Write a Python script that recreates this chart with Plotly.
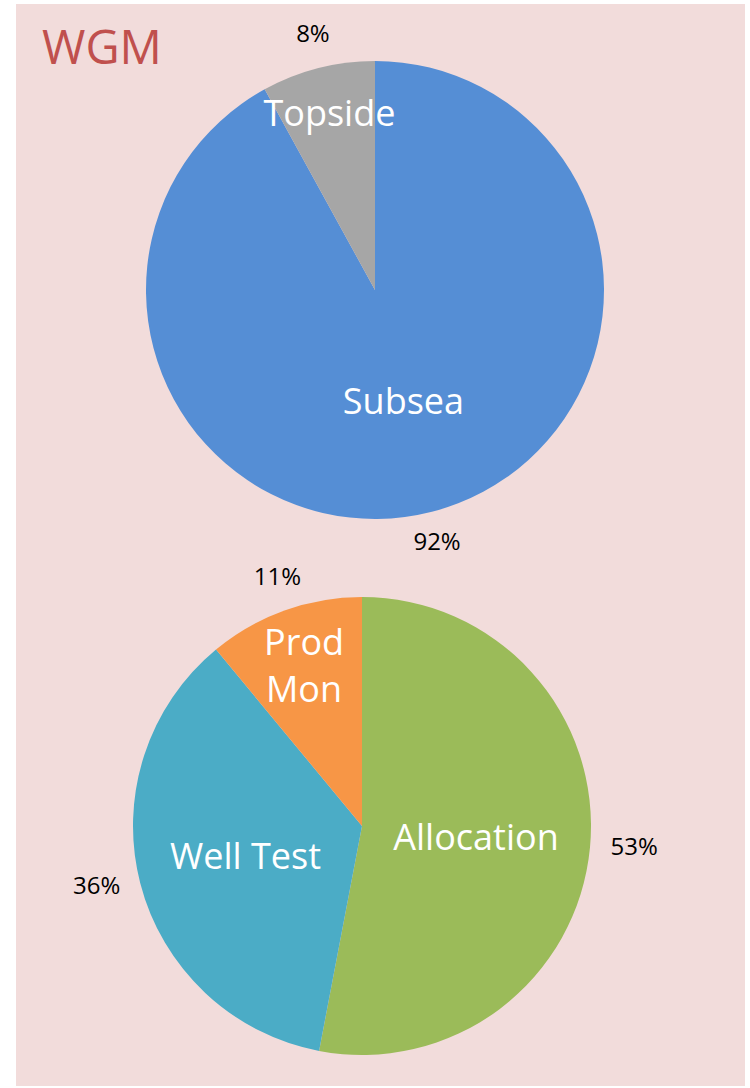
import math
import plotly.graph_objects as go

title_text = "WGM"

loc_labels = ["Subsea", "Topside"]
loc_values = [92, 8]
loc_colors = ["#558ED5", "#A6A6A6"]

use_labels = ["Allocation", "Well Test", "Prod<br>Mon"]
use_values = [53, 36, 11]
use_colors = ["#9BBB59", "#4BACC6", "#F79646"]

W, H = 750, 1088
FONT = "Open Sans"
LABEL_R = 1.09    # anchor radius of percentage labels (1 = pie edge)
POLAR_MAX = 1.13  # radial range of the overlay polar subplot

fig = go.Figure()


def scaled(dom, k):
    c = (dom[0] + dom[1]) / 2
    h = (dom[1] - dom[0]) / 2 * k
    return [max(0.0, c - h), min(1.0, c + h)]


def add_pie(labels, values, colors, dx, dy, polar_id):
    fig.add_trace(go.Pie(
        labels=labels, values=values, sort=False, direction="clockwise",
        rotation=0, domain=dict(x=dx, y=dy),
        marker=dict(colors=colors, line=dict(width=0)),
        textinfo="label", textposition="inside",
        insidetextorientation="horizontal",
        textfont=dict(family=FONT, size=36, color="white"),
        showlegend=False, hoverinfo="label+percent",
    ))
    # percentage labels just outside each slice, at the slice's mid angle
    total = sum(values)
    thetas, texts, positions, cum = [], [], [], 0
    for v in values:
        th = (cum + v / 2) / total * 360
        thetas.append(th)
        texts.append(f"{round(v / total * 100)}%")
        s, c = math.sin(math.radians(th)), math.cos(math.radians(th))
        if s > 0.7:
            positions.append("middle right")
        elif s < -0.7:
            positions.append("middle left")
        elif c > 0:
            positions.append("top center")
        else:
            positions.append("bottom center")
        cum += v
    fig.add_trace(go.Scatterpolar(
        r=[LABEL_R] * len(values), theta=thetas, text=texts,
        textposition=positions,
        mode="text", textfont=dict(family=FONT, size=24, color="black"),
        cliponaxis=False, showlegend=False, hoverinfo="skip",
        subplot=polar_id,
    ))
    polar_cfg = dict(
        domain=dict(x=scaled(dx, POLAR_MAX), y=scaled(dy, POLAR_MAX)),
        bgcolor="rgba(0,0,0,0)",
        angularaxis=dict(rotation=90, direction="clockwise", visible=False),
        radialaxis=dict(range=[0, POLAR_MAX], visible=False),
    )
    fig.update_layout(**{polar_id: polar_cfg})


add_pie(loc_labels, loc_values, loc_colors,
        [146 / W, 604 / W], [1 - 519 / H, 1 - 61 / H], "polar")
add_pie(use_labels, use_values, use_colors,
        [133 / W, 591 / W], [1 - 1055 / H, 1 - 597 / H], "polar2")

fig.update_layout(
    width=W, height=H,
    margin=dict(l=0, r=0, t=0, b=0),
    paper_bgcolor="white",
    uniformtext=dict(minsize=36, mode="show"),
    shapes=[dict(type="rect", xref="paper", yref="paper",
                 x0=16 / W, x1=745 / W, y0=2 / H, y1=1 - 4 / H,
                 fillcolor="#F2DCDB", line=dict(width=0), layer="below")],
    annotations=[dict(text=title_text, xref="paper", yref="paper",
                      x=40 / W, y=1 - 12 / H, xanchor="left", yanchor="top",
                      showarrow=False,
                      font=dict(family=FONT, size=47, color="#C0504D"))],
)

fig.write_html("out.html", config={"displayModeBar": False},
               post_script="document.body.style.margin='0px';")
